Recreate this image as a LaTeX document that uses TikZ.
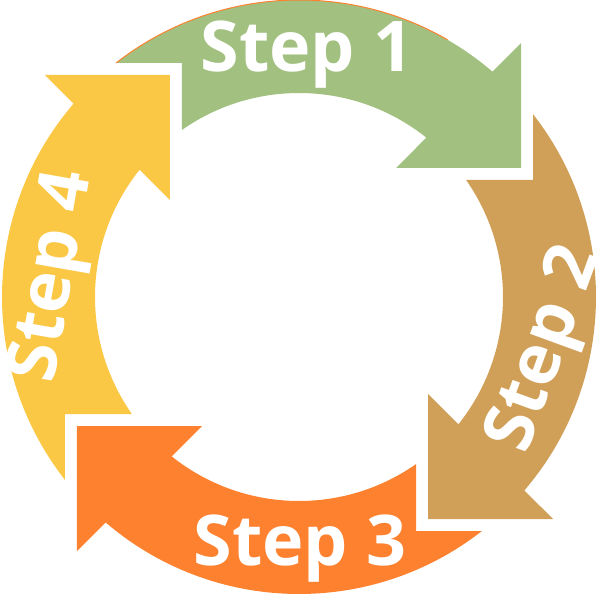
\documentclass[tikz,border=0pt]{standalone}
\usepackage{fontspec}
\newfontfamily\stepfont{Open Sans}
\usetikzlibrary{calc}

\definecolor{stepgreen}{HTML}{A2C180}
\definecolor{steptan}{HTML}{D1A058}
\definecolor{steporange}{HTML}{FD812F}
\definecolor{stepyellow}{HTML}{FBC846}

\tikzset{
  steparrow/.style={insert path={(49.37:297) arc[start angle=49.37, end angle=128.01, radius=297]
    -- (-117,234) -- (125:204) arc[start angle=125, end angle=51.37, radius=204]
    -- (97,129) -- (222,129) -- (222,254) -- cycle}},
  steplabel/.style={text=white, font=\stepfont\bfseries\fontsize{35}{40}\selectfont,
    anchor=base, inner sep=0pt},
}

\begin{document}
\begin{tikzpicture}[x=0.5pt, y=0.5pt]
  \useasboundingbox (-299,-297) rectangle (299,297);

  \fill[stepgreen] [steparrow];
  \fill[steptan, rotate=-90] [steparrow];
  \fill[steporange, rotate=-180] [steparrow];
  \fill[stepyellow, rotate=-270] [steparrow];
  \draw[steporange, line width=0.5pt] (60:297) arc[start angle=60, end angle=128.01, radius=297];

  \node[steplabel] (s1) at (8,225) {Step 1};
  \node[steplabel, rotate=70] (s2) at (264,-59) {Step 2};
  \node[steplabel] (s3) at (1,-268) {Step 3};
  \node[steplabel, rotate=80] (s4) at (-227,17) {Step 4};
\end{tikzpicture}
\end{document}
